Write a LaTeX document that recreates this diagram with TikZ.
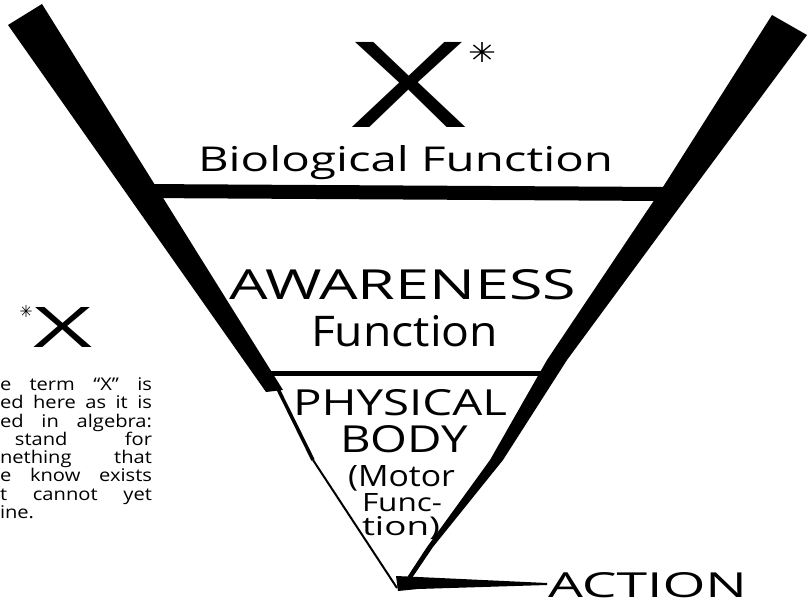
\documentclass[tikz,border=0pt]{standalone}
\usepackage{fontspec}
\setmainfont{Open Sans}
\newfontfamily\symfont{DejaVu Sans}
\newfontfamily\parafont[FakeStretch=1.15,Ligatures=TeX]{Open Sans}
\usepackage{graphicx}
\newcommand\fit[3]{\resizebox{#1pt}{#2pt}{#3}}
\newcommand\fitall[3]{\resizebox*{#1pt}{#2pt}{#3}}
\begin{document}
\begin{tikzpicture}[x=1pt,y=-1pt,
  txt/.style={inner sep=0pt, outer sep=0pt, anchor=base west},
  sym/.style={inner sep=0pt, outer sep=0pt, anchor=center},
  para/.style={inner sep=0pt, outer sep=0pt, anchor=base west, font=\parafont\fontsize{17.5}{18}\selectfont},
  wall/.style={fill=black},
  bar/.style={draw=black}]
\useasboundingbox (0,0) rectangle (809,604);
\fill[white] (0,0) rectangle (809,604);
% named corner coordinates
\coordinate (apex) at (397,588);
\coordinate (Ltop1) at (8,25);
\coordinate (Ltop2) at (42,4);
\coordinate (Lin) at (283,390);
\coordinate (Lout) at (266,392);
\coordinate (Lmid) at (313,460);
\coordinate (Rtop1) at (772,15);
\coordinate (Rtop2) at (807,35);
% left wall
\fill[wall] (Ltop1) -- (Ltop2) -- (Lin) -- (Lout) -- cycle;
\draw[line width=3.5pt] (276,385) -- (Lmid);
\draw[line width=2pt] (Lmid) -- (apex);
% right wall
\fill[wall] (Rtop1) -- (Rtop2) -- (687,197) -- (567,360) -- (503,460) -- (433,547) -- (410,581) -- (406,579) -- (427,547) -- (490,460) -- (547,360) -- (663,187) -- cycle;
% biological bar
\fill[wall] (140,184) -- (666,187) -- (666,201) -- (140,198) -- cycle;
% physical bar
\draw[bar, line width=5pt] (270,373) -- (550,373);
% action bar
\fill[wall] (396,576) -- (418,577) -- (547,583) -- (547,585) -- (418,589) -- (398,591) -- cycle;
% texts
\node[txt] (bigx) at (351,128) {\fit{115}{85}{X}};
\node[sym] (bigast) at (482,53) {\fitall{28}{20}{\symfont ✳}};
\node[txt] (bio) at (198,172) {\fit{415}{26}{Biological Function}};
\node[txt] (aware) at (229,299) {\fit{347}{30}{AWARENESS}};
\node[txt] (afunc) at (311,346) {\fit{187}{31}{Function}};
\node[txt] (phys) at (293,415) {\fit{214}{26}{PHYSICAL}};
\node[txt] (body) at (340,452) {\fit{128}{27}{BODY}};
\node[txt] (motor) at (348,486) {\fit{107}{21}{(Motor}};
\node[txt] (func) at (362,511) {\fit{80}{18}{Func-}};
\node[txt] (tion) at (362,535) {\fit{78}{19}{tion)}};
\node[txt] (action) at (548,597) {\fit{199}{25}{ACTION}};
% left note
\node[sym] (smallast) at (26,311) {\fitall{13}{12}{\symfont ✳}};
\node[txt] (smallx) at (33,347) {\fit{59}{40}{X}};
\node[para] (l1) at (0,390) {\makebox[152pt][s]{e term “X” is}};
\node[para] (l2) at (0,408) {\makebox[152pt][s]{ed here as it is}};
\node[para] (l3) at (0,427) {\makebox[152pt][s]{ed in algebra:}};
\node[para] (l4) at (15,445) {\makebox[137pt][s]{stand for}};
\node[para] (l5) at (0,463) {\makebox[152pt][s]{nething that}};
\node[para] (l6) at (0,481) {\makebox[152pt][s]{e know exists}};
\node[para] (l7) at (0,500) {\makebox[152pt][s]{t cannot yet}};
\node[para] (l8) at (0,518) {ine.};
\end{tikzpicture}
\end{document}
